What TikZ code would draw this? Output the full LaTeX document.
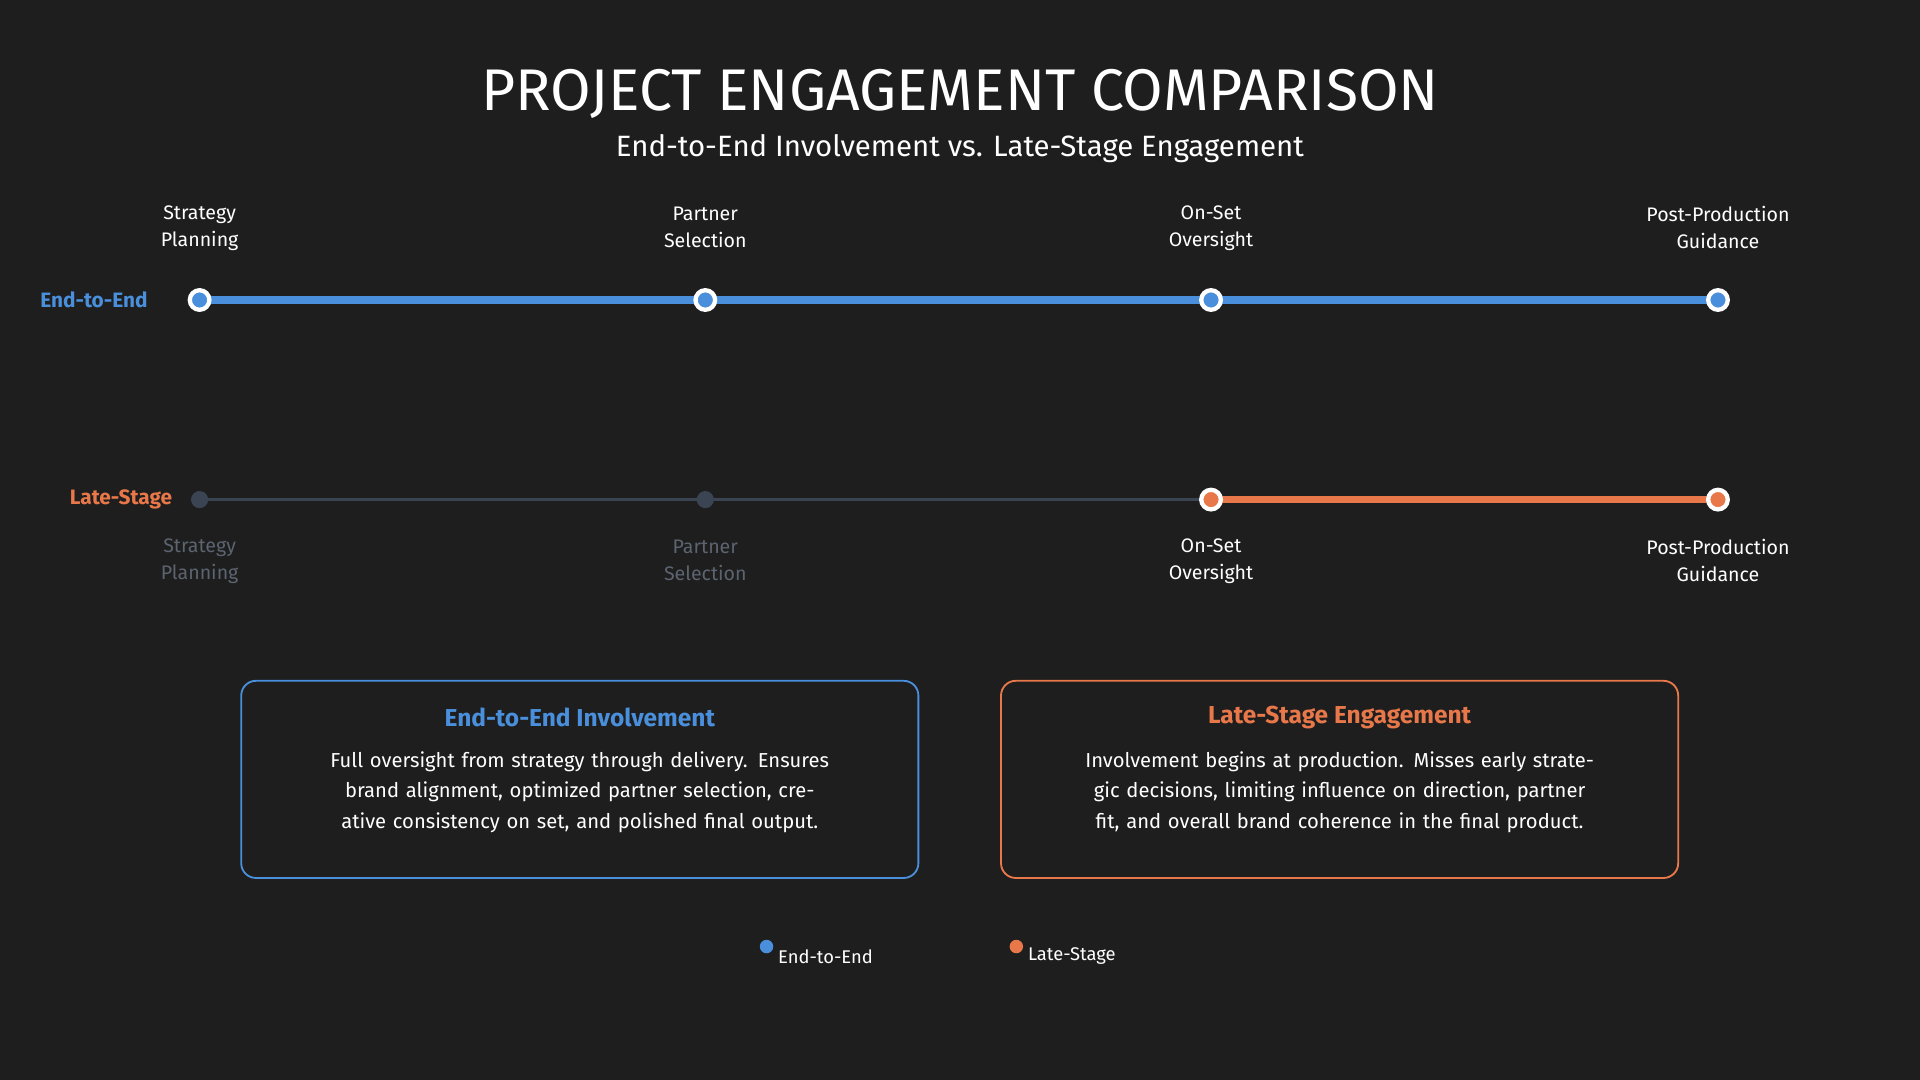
\documentclass[tikz,border=0pt]{standalone}
\usepackage{fontspec}
\setmainfont{Fira Sans}
\usetikzlibrary{positioning,calc}
\definecolor{bgcol}{HTML}{1E1E1E}
\definecolor{ebcol}{HTML}{4A8FDB}
\definecolor{lscol}{HTML}{E8784A}
\definecolor{offcol}{HTML}{3A4452}
\definecolor{offtxt}{HTML}{5C6470}
\tikzset{
    stagelabel/.style = {align=center, text=white, font=\fontsize{16}{22}\selectfont},
    offlabel/.style = {stagelabel, text=offtxt},
    dot/.style = {circle, fill=#1, draw=white, line width=3.5pt, minimum size=16pt, inner sep=0pt},
    offdot/.style = {circle, fill=offcol, minimum size=14pt, inner sep=0pt},
    rowlabel/.style = {anchor=east, font=\fontsize{17}{20}\selectfont\bfseries, text=#1},
    infobox/.style = {draw=#1, line width=1.5pt, rounded corners=12pt, minimum width=553pt, minimum height=161pt},
    boxtitle/.style = {font=\fontsize{20}{24}\selectfont\bfseries, text=#1},
    boxbody/.style = {align=center, text=white, text width=520pt, font=\fontsize{16.5}{25}\selectfont},
    legdot/.style = {circle, fill=#1, minimum size=11pt, inner sep=0pt}
}
\begin{document}
\begin{tikzpicture}[x=1pt, y=-1pt]
    \fill[bgcol] (0,0) rectangle (1568,882);
    \useasboundingbox (0,0) rectangle (1568,882);
    % title
    \node (title) at (784,77) {\fontsize{48}{52}\selectfont\color{white}PROJECT ENGAGEMENT COMPARISON};
    \node (subtitle) at (784,121) {\fontsize{24}{28}\selectfont\color{white}End-to-End Involvement vs. Late-Stage Engagement};
    % rows
    \node[rowlabel=ebcol] (ebrow) at (124,245) {End-to-End};
    \node[rowlabel=lscol] (lsrow) at (144,408) {Late-Stage};
    \foreach \x [count=\i] in {163,576,989,1403} {
        \coordinate (e\i) at (\x,245);
        \coordinate (l\i) at (\x,408);
    }
    \draw[offcol, line width=3pt] (l1) -- (l2) -- (l3);
    \draw[lscol, line width=6pt] (l3) -- (l4);
    \draw[ebcol, line width=6pt] (e1) -- (e4);
    \foreach \i/\txt in {1/Strategy\\Planning, 2/Partner\\Selection, 3/On-Set\\Oversight, 4/Post-Production\\Guidance} {
        \node[dot=ebcol] (ed\i) at (e\i) {};
        \node[stagelabel] (et\i) at ($(e\i)+(0,-59)$) {\txt};
    }
    \foreach \i/\txt in {1/Strategy\\Planning, 2/Partner\\Selection} {
        \node[offdot] (ld\i) at (l\i) {};
        \node[offlabel] (lt\i) at ($(l\i)+(0,50)$) {\txt};
    }
    \foreach \i/\txt in {3/On-Set\\Oversight, 4/Post-Production\\Guidance} {
        \node[dot=lscol] (ld\i) at (l\i) {};
        \node[stagelabel] (lt\i) at ($(l\i)+(0,50)$) {\txt};
    }
    % boxes
    \node[infobox=ebcol] (ebbox) at (473.5,636.5) {};
    \node[boxtitle=ebcol] (ebtitle) at (473.5,586) {End-to-End Involvement};
    \node[boxbody] (ebtext) at (473.5,647) {Full oversight from strategy through delivery. Ensures brand alignment, optimized partner selection, creative consistency on set, and polished final output.};
    \node[infobox=lscol] (lsbox) at (1094,636.5) {};
    \node[boxtitle=lscol] (lstitle) at (1094,586) {Late-Stage Engagement};
    \node[boxbody] (lstext) at (1094,647) {Involvement begins at production. Misses early strategic decisions, limiting influence on direction, partner fit, and overall brand coherence in the final product.};
    % legend
    \node[legdot=ebcol] (ebleg) at (626,773) {};
    \node[anchor=west, text=white, font=\fontsize{15}{18}\selectfont] at (632,781) {End-to-End};
    \node[legdot=lscol] (lsleg) at (830,773) {};
    \node[anchor=west, text=white, font=\fontsize{15}{18}\selectfont] at (836,781) {Late-Stage};
\end{tikzpicture}
\end{document}
